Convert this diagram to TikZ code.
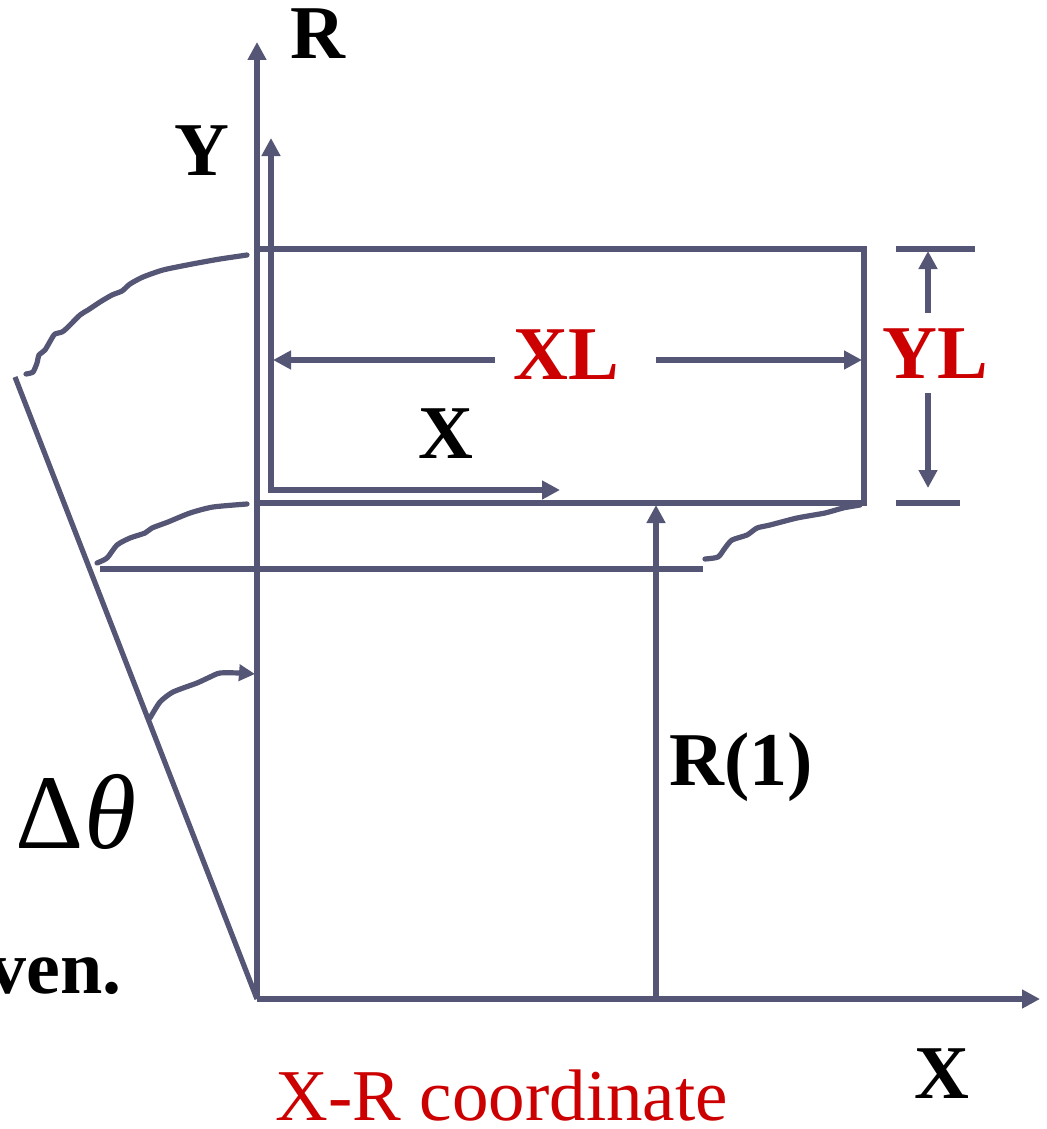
\documentclass[tikz,border=0pt]{standalone}
\usepackage{fontspec}
\setmainfont{Liberation Serif}
\usetikzlibrary{arrows.meta}
\definecolor{ln}{RGB}{85,85,117}
\definecolor{rd}{RGB}{204,0,0}
\begin{document}
\begin{tikzpicture}[x=0.5pt,y=-0.5pt,
  line/.style={draw=ln,line width=2.6pt},
  arr/.style={line,-{Triangle[length=9pt,width=9pt]}},
  wave/.style={line,line cap=round},
  lbl/.style={font=\fontsize{38}{40}\selectfont\bfseries,anchor=base,inner sep=0pt},
  redlbl/.style={lbl,text=rd}]
\useasboundingbox (0,0) rectangle (1046,1129);
% coordinates
\coordinate (O) at (257,999);
\coordinate (Rtop) at (257,42);
\coordinate (Xend) at (1040,999);
\coordinate (o) at (271,490);
\coordinate (Ytop) at (271,138);
\coordinate (xend) at (560,490);
\coordinate (TL) at (257,249);
\coordinate (TR) at (864,249);
\coordinate (BR) at (864,503);
\coordinate (BL) at (257,503);
\coordinate (S) at (15,377);
\coordinate (H1) at (100,569);
\coordinate (H2) at (703,569);
\coordinate (R1b) at (656,999);
\coordinate (R1t) at (656,505);
\coordinate (XLa) at (495,360);
\coordinate (XLl) at (273,360);
\coordinate (XLb) at (656,360);
\coordinate (XLr) at (862,360);
\coordinate (YT1) at (896,249);
\coordinate (YT2) at (975,249);
\coordinate (YB1) at (896,503);
\coordinate (YB2) at (960,503);
\coordinate (YLa) at (928,313);
\coordinate (YLt) at (928,251);
\coordinate (YLb) at (928,393);
\coordinate (YLd) at (928,488);
\coordinate (Aend) at (255,674);
% axes
\draw[arr] (O) -- (Rtop);
\draw[arr] (O) -- (Xend);
\draw[line,{Triangle[length=9pt,width=9pt]}-{Triangle[length=9pt,width=9pt]}] (Ytop) -- (o) -- (xend);
% rectangle
\draw[line,line join=miter] (TL) -- (TR) -- (BR) -- (BL);
% slanted and horizontal
\draw[line] (S) -- (O);
\draw[line] (H1) -- (H2);
\draw[arr] (R1b) -- (R1t);
% XL / YL
\draw[arr] (XLa) -- (XLl);
\draw[arr] (XLb) -- (XLr);
\draw[line] (YT1) -- (YT2);
\draw[line] (YB1) -- (YB2);
\draw[arr] (YLa) -- (YLt);
\draw[arr] (YLb) -- (YLd);
% wavy curves
\draw[wave] plot[smooth,tension=0.4] coordinates {(26,374) (33,372) (37,363) (39,355) (45,350) (52,338) (55,334) (62,332) (67,328) (80,315) (88,310) (100,302) (112,295) (122,291) (130,284) (143,277) (163,270) (187,265) (203,262) (220,259) (247,255)};
\draw[wave] plot[smooth,tension=0.4] coordinates {(97,563) (107,558) (117,545) (130,538) (145,533) (152,528) (168,522) (190,513) (213,507) (247,504)};
\draw[wave] plot[smooth,tension=0.4] coordinates {(705,559) (718,557) (725,548) (732,540) (747,535) (757,528) (770,525) (797,518) (825,513) (843,508) (860,505)};
\draw[wave,-{Triangle[length=8pt,width=8pt]}] plot[smooth,tension=0.4] coordinates {(150,718) (160,702) (173,692) (197,683) (210,677) (220,673) (240,673) (Aend)};
% labels
\node[lbl] (lR) at (318,59) {R};
\node[lbl] (lY) at (202,176) {Y};
\node[lbl] (lx) at (446,458) {X};
\node[redlbl] (lXL) at (566,379) {XL};
\node[redlbl] (lYL) at (935,378) {YL};
\node[lbl] (lR1) at (741,785) {R(1)};
\node[lbl] (lX) at (942,1098) {X};
\node[lbl,anchor=base east] (lven) at (122,993) {ven.};
\node[anchor=base,inner sep=0pt,font=\fontsize{53}{55}\selectfont] (ldt) at (76,848) {Δ\textit{θ}};
\node[anchor=base,inner sep=0pt,text=rd,font=\fontsize{36.5}{38}\selectfont] (lcap) at (502,1120) {X-R coordinate};
\end{tikzpicture}
\end{document}
